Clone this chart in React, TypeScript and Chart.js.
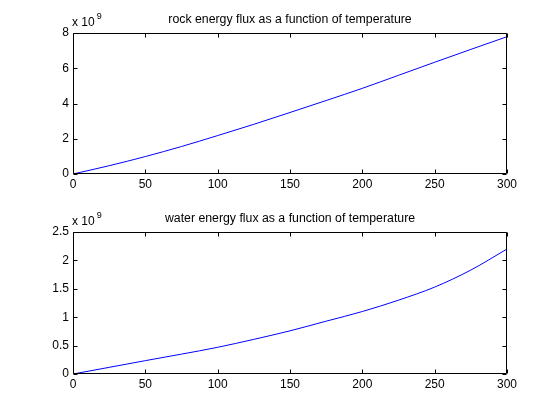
import React, { useEffect, useRef } from "react";
import { Chart, registerables } from "chart.js";

Chart.register(...registerables);

const temperature = [0, 25, 50, 75, 100, 125, 150, 175, 200, 225, 250, 275, 300];
const rockFlux = [0, 0.47, 0.99, 1.56, 2.18, 2.82, 3.49, 4.17, 4.86, 5.6, 6.34, 7.07, 7.79];
const waterFlux = [0, 0.117, 0.235, 0.35, 0.47, 0.61, 0.76, 0.93, 1.1, 1.3, 1.53, 1.83, 2.2];
const xTicks = [0, 50, 100, 150, 200, 250, 300];
const rockYTicks = [0, 2, 4, 6, 8];
const waterYTicks = [0, 0.5, 1, 1.5, 2, 2.5];
const rockTitle = "rock energy flux as a function of temperature";
const waterTitle = "water energy flux as a function of temperature";

const FONT = "'Liberation Sans', Arial, Helvetica, sans-serif";

function makeBoxPlugin(title: string, xt: number[], yt: number[]) {
  return {
    id: "matlabBox",
    afterDraw(chart: any) {
      const { ctx, chartArea } = chart;
      const { left, right, top, bottom } = chartArea;
      const xs = chart.scales.x;
      const ys = chart.scales.y;
      ctx.save();
      ctx.strokeStyle = "#000";
      ctx.lineWidth = 1;
      const L = Math.round(left) + 0.5;
      const R = Math.round(right) - 0.5;
      const T = Math.round(top) + 0.5;
      const B = Math.round(bottom) - 0.5;
      ctx.beginPath();
      ctx.rect(L, T, R - L, B - T);
      ctx.stroke();
      const tl = 4;
      ctx.beginPath();
      xt.forEach((v) => {
        const px = Math.round(xs.getPixelForValue(v)) + 0.5;
        ctx.moveTo(px, B);
        ctx.lineTo(px, B - tl);
        ctx.moveTo(px, T);
        ctx.lineTo(px, T + tl);
      });
      yt.forEach((v) => {
        const py = Math.round(ys.getPixelForValue(v)) + 0.5;
        ctx.moveTo(L, py);
        ctx.lineTo(L + tl, py);
        ctx.moveTo(R, py);
        ctx.lineTo(R - tl, py);
      });
      ctx.stroke();
      ctx.fillStyle = "#000";
      ctx.font = `12.3px ${FONT}`;
      ctx.textAlign = "center";
      ctx.textBaseline = "middle";
      ctx.fillText(title, (left + right) / 2, top - 13);
      ctx.font = `12px ${FONT}`;
      ctx.textAlign = "left";
      ctx.fillText("x 10", left - 1, top - 10);
      const w = ctx.measureText("x 10").width;
      ctx.font = `9px ${FONT}`;
      ctx.fillText("9", left - 1 + w + 2, top - 16);
      ctx.restore();
    },
  };
}

function Panel(props: {
  data: number[];
  yTicks: number[];
  yMax: number;
  title: string;
  top: number;
  padTop: number;
  bottomSpace: number;
}) {
  const ref = useRef<HTMLCanvasElement | null>(null);
  useEffect(() => {
    if (!ref.current) return;
    const chart = new Chart(ref.current, {
      type: "line",
      data: {
        datasets: [
          {
            data: temperature.map((t, i) => ({ x: t, y: props.data[i] })),
            borderColor: "#0000ff",
            borderWidth: 1,
            pointRadius: 0,
            fill: false,
            cubicInterpolationMode: "monotone",
          },
        ],
      },
      options: {
        responsive: false,
        animation: false,
        events: [],
        layout: { padding: { left: 0, right: 53, top: props.padTop, bottom: 0 } },
        plugins: { legend: { display: false }, tooltip: { enabled: false }, title: { display: false } },
        scales: {
          x: {
            type: "linear",
            min: 0,
            max: 300,
            afterBuildTicks: (s: any) => {
              s.ticks = xTicks.map((v) => ({ value: v }));
            },
            afterFit: (s: any) => {
              s.height = props.bottomSpace;
            },
            grid: { display: false, drawTicks: false },
            border: { display: false },
            ticks: {
              color: "#000",
              font: { family: FONT, size: 12 },
              padding: 3,
              maxRotation: 0,
              autoSkip: false,
              callback: (v: any) => String(v),
            },
          },
          y: {
            type: "linear",
            min: 0,
            max: props.yMax,
            afterBuildTicks: (s: any) => {
              s.ticks = props.yTicks.map((v) => ({ value: v }));
            },
            afterFit: (s: any) => {
              s.width = 73;
            },
            grid: { display: false, drawTicks: false },
            border: { display: false },
            ticks: {
              color: "#000",
              font: { family: FONT, size: 12 },
              padding: 4,
              autoSkip: false,
              callback: (v: any) => String(v),
            },
          },
        },
      },
      plugins: [makeBoxPlugin(props.title, xTicks, props.yTicks)],
    } as any);
    return () => chart.destroy();
  }, []);
  return (
    <canvas
      ref={ref}
      width={560}
      height={210}
      style={{ position: "absolute", left: 0, top: props.top, width: 560, height: 210 }}
    />
  );
}

export default function App() {
  return (
    <div style={{ position: "fixed", left: 0, top: 0, width: 560, height: 420, background: "#fff" }}>
      <Panel data={rockFlux} yTicks={rockYTicks} yMax={8} title={rockTitle} top={0} padTop={33} bottomSpace={36} />
      <Panel data={waterFlux} yTicks={waterYTicks} yMax={2.5} title={waterTitle} top={210} padTop={22} bottomSpace={46} />
    </div>
  );
}
